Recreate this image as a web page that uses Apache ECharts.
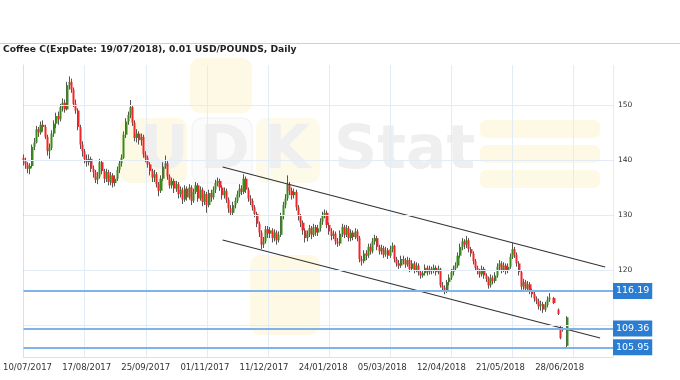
<!DOCTYPE html>
<html><head><meta charset="utf-8">
<script src="https://cdn.jsdelivr.net/npm/echarts@6/dist/echarts.min.js"></script>
<style>html,body{margin:0;padding:0;background:#fff}#c{width:680px;height:380px}</style>
</head><body><div id="c"></div>
<script>
const titleText = 'Coffee C(ExpDate: 19/07/2018), 0.01 USD/POUNDS, Daily';
const tickLabels = ['10/07/2017','17/08/2017','25/09/2017','01/11/2017','11/12/2017','24/01/2018','05/03/2018','12/04/2018','21/05/2018','28/06/2018'];
const yTicks = [110, 120, 130, 140, 150];
const levels = [116.19, 109.36, 105.95];
const upperChannel = [[91.2, 138.73], [266.4, 120.55]];
const lowerChannel = [[91.2, 125.45], [264.1, 107.64]];
// daily bars, index = trading day from 10/07/2017 (null = no bar)
const open = [140.4,140.0,139.2,138.4,138.9,142.4,143.2,145.6,145.0,146.4,146.0,144.2,141.6,142.2,144.8,146.6,148.0,147.4,149.6,150.4,
149.2,153.6,154.2,152.8,150.2,149.0,146.0,142.8,141.6,140.2,139.6,140.2,138.4,137.8,136.4,137.0,139.6,138.0,136.6,137.8,
136.0,137.2,135.8,136.6,138.2,139.4,140.4,144.6,147.0,148.2,149.6,146.8,144.0,144.8,143.6,144.2,141.0,140.4,139.2,138.0,
136.8,137.4,135.6,134.4,136.6,138.8,139.4,137.0,135.4,136.2,134.8,135.6,133.8,134.6,132.8,134.8,133.2,135.0,132.6,134.2,
135.4,133.0,134.6,132.4,133.8,131.8,134.0,133.2,134.6,135.8,136.2,135.0,133.6,134.4,132.8,131.2,130.4,131.8,132.6,133.8,
134.8,134.2,136.6,134.6,133.0,132.6,131.4,130.2,128.4,126.8,124.6,125.2,127.4,126.6,127.2,125.8,126.8,125.4,126.4,129.8,
131.8,133.0,135.6,134.4,133.6,134.2,131.4,129.8,128.6,127.2,125.8,126.6,127.6,126.4,127.8,126.8,127.6,128.8,130.0,130.4,
128.2,127.0,126.2,126.6,125.2,124.8,126.6,127.8,126.4,127.6,125.8,126.8,126.0,127.0,125.8,122.0,121.6,123.0,122.6,124.2,
123.4,125.2,125.8,124.2,123.4,124.0,122.8,123.6,122.6,123.8,124.4,122.0,121.2,120.8,122.0,121.8,121.0,121.8,120.2,121.2,
120.0,120.8,119.6,119.0,119.4,120.4,119.6,120.2,119.8,120.4,119.6,120.2,117.2,116.8,116.2,117.8,118.6,119.6,120.2,120.8,
122.6,124.2,125.2,124.6,125.4,123.8,123.0,121.6,120.4,119.8,119.2,120.2,119.0,118.4,117.2,118.6,118.0,119.0,120.6,121.2,
120.0,120.8,119.8,120.6,122.4,123.8,122.8,121.2,119.6,117.0,117.8,116.6,117.4,116.2,115.6,114.8,114.4,113.4,113.8,112.8,
113.6,114.6,null,114.9,null,112.8,109.6,109.4,null,106.2];
const close = [140.0,139.2,138.4,138.9,142.4,143.2,145.6,145.0,146.4,146.0,144.2,141.6,142.2,144.8,146.6,148.0,147.4,149.6,150.4,149.2,
153.6,154.2,152.8,150.2,149.0,146.0,142.8,141.6,140.2,139.6,140.2,138.4,137.8,136.4,137.0,139.6,138.0,136.6,137.8,136.0,
137.2,135.8,136.6,138.2,139.4,140.4,144.6,147.0,148.2,149.6,146.8,144.0,144.8,143.6,144.2,141.0,140.4,139.2,138.0,136.8,
137.4,135.6,134.4,136.6,138.8,139.4,137.0,135.4,136.2,134.8,135.6,133.8,134.6,132.8,134.8,133.2,135.0,132.6,134.2,135.4,
133.0,134.6,132.4,133.8,131.8,134.0,133.2,134.6,135.8,136.2,135.0,133.6,134.4,132.8,131.2,130.4,131.8,132.6,133.8,134.8,
134.2,136.6,134.6,133.0,132.6,131.4,130.2,128.4,126.8,124.6,125.2,127.4,126.6,127.2,125.8,126.8,125.4,126.4,129.8,131.8,
133.0,135.6,134.4,133.6,134.2,131.4,129.8,128.6,127.2,125.8,126.6,127.6,126.4,127.8,126.8,127.6,128.8,130.0,130.4,128.2,
127.0,126.2,126.6,125.2,124.8,126.6,127.8,126.4,127.6,125.8,126.8,126.0,127.0,125.8,122.0,121.6,123.0,122.6,124.2,123.4,
125.2,125.8,124.2,123.4,124.0,122.8,123.6,122.6,123.8,124.4,122.0,121.2,120.8,122.0,121.8,121.0,121.8,120.2,121.2,120.0,
120.8,119.6,119.0,119.4,120.4,119.6,120.2,119.8,120.4,119.6,120.2,117.2,116.8,116.2,117.8,118.6,119.6,120.2,120.8,122.6,
124.2,125.2,124.6,125.4,123.8,123.0,121.6,120.4,119.8,119.2,120.2,119.0,118.4,117.2,118.6,118.0,119.0,120.6,121.2,120.0,
120.8,119.8,120.6,122.4,123.8,122.8,121.2,119.6,117.0,117.8,116.6,117.4,116.2,115.6,114.8,114.4,113.4,113.8,112.8,113.6,
114.6,115.0,null,114.0,null,112.0,107.6,109.2,null,111.4];
const low = [139.0,138.4,137.6,137.4,138.6,141.8,143.0,144.2,144.6,145.2,143.8,140.8,140.2,141.8,144.2,145.8,146.4,147.0,148.8,148.6,
149.0,152.8,152.2,149.6,148.4,145.4,142.0,140.6,139.4,138.8,139.0,137.8,136.8,135.8,135.6,136.6,137.4,135.8,136.0,135.4,
135.4,135.0,135.2,136.2,137.6,138.8,140.2,144.0,146.4,147.6,146.2,143.4,143.2,142.8,142.6,140.4,139.6,138.6,137.2,136.0,
136.0,135.0,133.4,134.0,136.2,138.4,136.4,134.8,134.8,134.0,134.2,133.0,133.2,132.0,132.4,132.6,132.8,131.8,132.2,133.8,
132.4,132.6,131.6,131.8,130.4,131.4,132.4,132.8,134.0,135.2,134.4,132.8,133.0,132.2,130.4,129.8,130.0,131.2,132.2,133.2,
133.6,133.8,134.0,132.4,131.8,130.8,129.6,127.8,126.0,123.8,124.0,124.8,125.8,125.8,125.0,125.2,124.6,125.0,126.0,129.2,
131.2,132.6,133.6,132.8,133.0,130.8,129.0,127.8,126.4,125.0,125.2,126.0,125.6,126.0,126.2,126.2,127.0,128.2,129.4,127.6,
126.4,125.4,125.6,124.6,124.2,124.4,126.0,125.8,126.0,125.2,125.2,125.4,125.6,125.2,121.4,120.8,121.2,121.8,122.2,122.8,
123.0,124.6,123.6,122.8,122.8,122.2,122.4,122.0,122.2,123.2,121.4,120.6,120.2,120.4,121.0,120.4,120.6,119.6,119.8,119.4,
119.6,119.0,118.4,118.6,119.0,119.0,119.2,119.2,119.4,119.0,119.2,116.8,116.0,115.6,115.8,117.2,118.2,119.0,119.8,120.4,
122.2,123.6,123.8,124.0,123.2,122.4,121.0,119.8,119.2,118.6,118.8,118.4,117.8,116.6,116.8,117.4,117.6,118.6,120.0,119.4,
119.6,119.2,119.4,120.2,122.0,122.2,120.6,119.0,116.4,116.4,116.0,116.2,115.6,115.0,114.2,113.8,112.8,112.6,112.2,112.4,
113.2,114.2,null,113.8,null,111.8,107.4,108.8,null,106.0];
const high = [141.0,140.4,139.6,139.4,142.8,144.0,146.2,146.0,147.0,147.2,146.4,144.6,143.0,145.4,147.2,148.6,148.8,150.2,151.2,151.0,
154.2,155.2,154.8,153.2,151.0,149.4,146.4,143.4,142.0,141.0,141.0,140.6,139.0,138.2,137.8,140.2,140.0,138.4,138.4,138.2,
137.8,137.6,137.2,138.8,140.0,141.0,145.2,147.6,148.8,150.9,150.0,147.2,145.6,145.2,144.8,144.6,141.6,140.8,139.6,138.4,
138.2,137.8,136.0,137.2,139.6,140.8,139.8,137.4,136.8,136.6,136.2,136.0,135.2,135.0,135.4,135.2,135.6,135.4,134.8,136.0,
135.8,135.2,135.0,134.4,134.2,134.6,134.6,135.2,136.4,136.8,136.6,135.4,135.0,134.8,133.2,131.8,132.4,133.2,134.4,135.6,
135.4,137.4,137.0,135.0,133.6,133.0,131.8,130.6,128.8,127.2,126.0,128.0,128.0,127.8,127.6,127.4,127.2,127.0,130.4,132.4,
133.8,137.2,136.0,135.0,134.8,134.6,131.8,130.2,129.0,127.6,127.2,128.2,128.0,128.4,128.2,128.2,129.4,130.6,131.0,130.8,
128.6,127.6,127.2,127.0,125.8,127.2,128.4,128.2,128.2,128.0,127.4,127.2,127.6,127.4,126.2,122.6,123.6,123.6,124.8,124.8,
125.8,126.4,126.2,124.6,124.6,124.4,124.2,124.0,124.4,125.0,124.6,122.4,121.8,122.6,122.6,122.2,122.4,122.2,121.8,121.6,
121.4,121.2,120.0,120.0,121.0,120.8,120.8,120.6,121.0,120.8,120.8,120.4,117.8,117.2,118.2,119.2,120.2,120.8,121.4,123.2,
124.8,125.8,125.6,126.2,125.8,124.2,123.4,122.0,120.8,120.2,120.8,120.6,119.4,118.8,119.2,119.0,119.6,121.2,121.8,121.6,
121.4,121.2,121.2,123.0,124.9,124.2,123.2,121.6,120.0,118.4,118.2,118.0,117.8,116.6,116.0,115.2,114.8,114.4,114.2,114.2,
115.2,115.8,null,115.1,null,113.0,109.8,109.6,null,111.6];

const wickData = [], bodyData = [];
for (let i = 0; i < open.length; i++) {
  if (open[i] == null) continue;
  wickData.push([i, open[i], close[i], low[i], high[i]]);
  bodyData.push([i, open[i], close[i], Math.min(open[i], close[i]), Math.max(open[i], close[i])]);
}

const FONT = 'DejaVu Sans';
const chart = echarts.init(document.getElementById('c'), null, {renderer: 'canvas'});
chart.setOption({
  animation: false,
  backgroundColor: '#fff',
  title: {text: titleText, left: -2, top: 40, textStyle: {fontFamily: FONT, fontSize: 9.2, fontWeight: 'bold', color: '#222'}},
  graphic: [
    {type: 'line', z: -1, shape: {x1: 0, y1: 43.5, x2: 680, y2: 43.5}, style: {stroke: '#cfcfcf', lineWidth: 1}},
    {type: 'rect', z: -5, shape: {x: 120, y: 118, width: 67, height: 65, r: 10}, style: {fill: '#fef9e4'}},
    {type: 'rect', z: -5, shape: {x: 190, y: 58, width: 62, height: 55, r: 10}, style: {fill: '#fef9e4'}},
    {type: 'rect', z: -5, shape: {x: 192, y: 118, width: 60, height: 65, r: 10}, style: {fill: '#fbfbfb', stroke: '#f0f0f0'}},
    {type: 'rect', z: -5, shape: {x: 256, y: 118, width: 64, height: 65, r: 10}, style: {fill: '#fefaea'}},
    {type: 'rect', z: -5, shape: {x: 250, y: 255, width: 70, height: 80, r: 10}, style: {fill: '#fef9e4'}},
    {type: 'rect', z: -5, shape: {x: 480, y: 120, width: 120, height: 18, r: 6}, style: {fill: '#fef9e4'}},
    {type: 'rect', z: -5, shape: {x: 480, y: 145, width: 120, height: 18, r: 6}, style: {fill: '#fef9e4'}},
    {type: 'rect', z: -5, shape: {x: 480, y: 170, width: 120, height: 18, r: 6}, style: {fill: '#fef9e4'}},
    {type: 'text', z: -4, x: 140, y: 122, style: {text: 'U', font: 'bold 60px "DejaVu Sans"', fill: '#efefef'}},
    {type: 'text', z: -4, x: 200, y: 122, style: {text: 'D', font: 'bold 60px "DejaVu Sans"', fill: '#efefef'}},
    {type: 'text', z: -4, x: 264, y: 122, style: {text: 'K', font: 'bold 60px "DejaVu Sans"', fill: '#efefef'}},
    {type: 'text', z: -4, x: 334, y: 122, style: {text: 'Stat', font: 'bold 60px "DejaVu Sans"', fill: '#efefef'}}
  ],
  grid: {left: 22.7, right: 67, top: 65, bottom: 23, containLabel: false},
  xAxis: [
    {type: 'value', min: 0, max: 270, interval: 28, position: 'bottom',
     axisLine: {show: true, lineStyle: {color: '#d3e2f2'}}, axisTick: {show: false}, axisLabel: {show: false},
     splitLine: {show: true, lineStyle: {color: '#e2ecf7'}}},
    {type: 'value', min: 0, max: 9.97, interval: 1, position: 'bottom',
     axisLine: {show: false}, axisTick: {show: false}, splitLine: {show: false},
     axisLabel: {show: true, margin: 6, padding: [0, 0, 0, 8], fontFamily: FONT, fontSize: 8.5, color: '#333',
       formatter: v => (Number.isInteger(v) && tickLabels[v]) ? tickLabels[v] : ''}}
  ],
  yAxis: {type: 'value', position: 'right', min: 104.18, max: 157.27, scale: true,
    axisLine: {show: true, lineStyle: {color: '#d3e2f2'}},
    axisTick: {show: true, length: 3, lineStyle: {color: '#888'}, customValues: yTicks},
    axisLabel: {show: true, margin: 5, fontFamily: FONT, fontSize: 7.5, color: '#333', customValues: yTicks},
    splitLine: {show: false}},
  series: [
    {type: 'line', data: [], silent: true, xAxisIndex: 0,
     markLine: {silent: true, symbol: ['none', 'none'], label: {show: false},
       lineStyle: {color: '#e2ecf7', width: 1, type: 'solid'}, data: yTicks.map(v => ({yAxis: v}))}},
    {type: 'candlestick', name: 'wick', xAxisIndex: 0, barWidth: 1, data: wickData, silent: true,
     itemStyle: {color: '#555', color0: '#555', borderColor: '#555', borderColor0: '#555', borderWidth: 1}},
    {type: 'candlestick', name: 'body', xAxisIndex: 0, barWidth: 2.6, data: bodyData, silent: true,
     itemStyle: {color: '#3a8a1c', color0: '#f2262a', borderColor: '#3a8a1c', borderColor0: '#f2262a', borderWidth: 0},
     markLine: {silent: true, symbol: ['none', 'none'],
       lineStyle: {color: '#7fb4ea', width: 2, type: 'solid'},
       label: {show: true, position: 'end', distance: 0, formatter: p => p.value.toFixed(2), backgroundColor: '#2a7dd1',
         color: '#fff', fontFamily: FONT, fontSize: 9.5, padding: [3, 3, 3, 3]},
       data: levels.map(v => ({yAxis: v}))}},
    {type: 'line', xAxisIndex: 0, data: upperChannel, symbol: 'none', silent: true, lineStyle: {color: '#333', width: 1.2}},
    {type: 'line', xAxisIndex: 0, data: lowerChannel, symbol: 'none', silent: true, lineStyle: {color: '#333', width: 1.2}}
  ]
});
</script></body></html>
